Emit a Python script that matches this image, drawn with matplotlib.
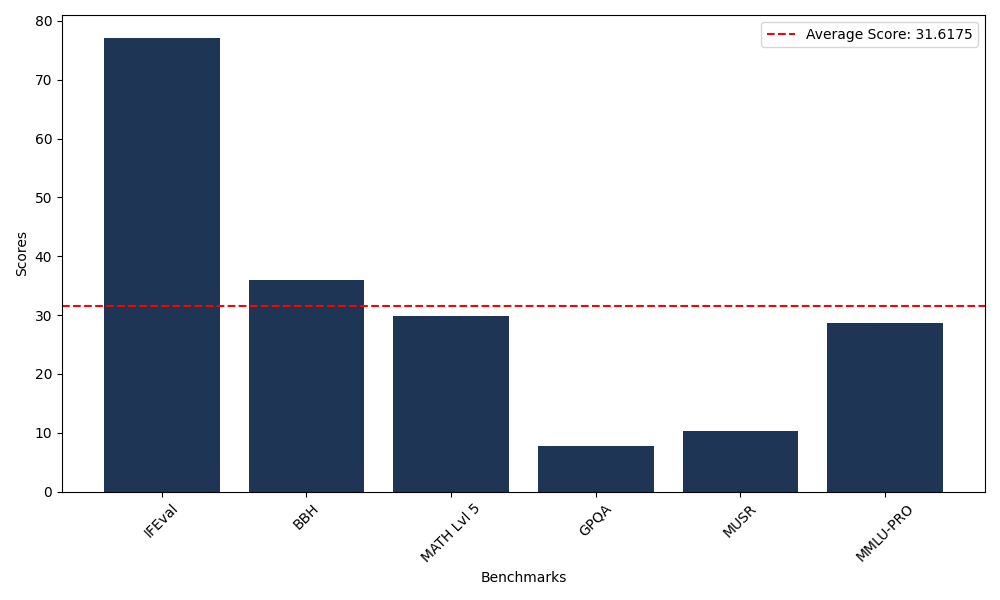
import numpy as np
import matplotlib
matplotlib.use("Agg")
import matplotlib.pyplot as plt

# ── Data ──────────────────────────────────────────────────────────────
benchmarks = ["IFEval", "BBH", "MATH Lvl 5", "GPQA", "MUSR", "MMLU-PRO"]
scores     = [77.14, 35.97, 29.86, 7.72, 10.28, 28.735]

average_score = np.mean(scores)

fig, ax = plt.subplots(figsize=(10, 6))
ax.bar(benchmarks, scores, color="#1e3556")
ax.axhline(average_score, color="red", linestyle="--",
           label=f"Average Score: {average_score:.4f}")

ax.set_xlabel("Benchmarks")
ax.set_ylabel("Scores")
plt.xticks(rotation=45)
ax.legend(loc="upper right")

plt.tight_layout()
plt.savefig("out.png", dpi=100)
plt.close(fig)
